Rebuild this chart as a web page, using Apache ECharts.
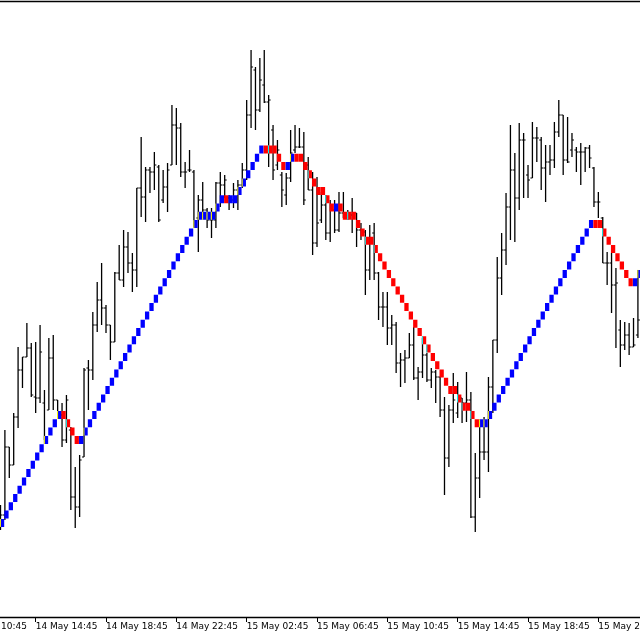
<!DOCTYPE html>
<html><head><meta charset="utf-8">
<script src="https://cdn.jsdelivr.net/npm/echarts@6/dist/echarts.min.js"></script>
<style>html,body{margin:0;padding:0;background:#fff}#c{width:640px;height:640px}</style>
</head><body><div id="c"></div>
<script>
// time labels at every 16th bar, starting at bar -8
const timeLabels = ["14 May 10:45","14 May 14:45","14 May 18:45","14 May 22:45","15 May 02:45","15 May 06:45","15 May 10:45","15 May 14:45","15 May 18:45","15 May 22:45","16 May 02:45"];

// OHLC bars (price in points)
const highs = [95,170,153,187,253,243,277,257,258,275,
 210,262,265,200,197,205,173,133,145,232,
 240,288,318,337,295,275,328,355,370,368,
 347,412,463,433,433,448,435,430,437,495,
 492,477,438,450,430,405,418,392,392,418,
 428,425,405,417,420,437,500,550,533,542,
 550,505,475,460,428,427,470,475,472,468,
 443,428,423,408,405,400,400,408,408,390,
 402,387,377,370,375,377,328,308,308,285,
 278,247,250,267,273,233,262,247,232,230,
 223,203,195,227,218,202,228,208,147,177,
 183,223,260,343,367,407,475,447,477,467,
 435,478,473,463,455,455,478,500,485,483,
 467,453,457,453,455,433,408,383,348,347,
 332,280,278,277,282,330];
const lows = [70,80,122,135,172,212,243,203,187,197,
 160,190,190,185,153,157,90,72,83,143,
 190,220,268,275,267,240,258,320,313,327,
 308,313,383,378,407,410,378,397,388,435,
 435,423,412,428,373,348,382,372,362,372,
 393,402,390,392,390,412,420,472,470,488,
 497,433,420,430,393,395,418,447,452,395,
 410,345,353,377,360,358,367,368,382,380,
 367,353,360,305,320,320,280,273,255,255,
 227,213,217,242,220,200,222,218,212,197,
 183,105,133,177,182,177,178,82,68,102,
 140,128,187,247,305,335,360,358,390,402,
 402,422,438,410,398,425,432,463,425,437,
 443,428,415,428,432,393,382,337,315,287,
 252,233,250,245,253,262];
const opens = [72,85,153,135,183,230,243,252,203,202,
 197,190,242,200,185,160,170,103,93,143,
 232,230,275,300,292,275,258,327,320,353,
 337,330,412,403,430,428,433,400,413,435,
 475,472,428,430,428,382,400,390,380,380,
 417,415,402,400,410,415,430,485,530,490,
 515,498,470,435,425,405,422,450,453,453,
 435,410,357,380,395,367,390,370,387,387,
 385,387,370,368,330,367,327,293,293,272,
 275,237,240,242,255,222,228,245,220,228,
 223,190,142,190,187,202,197,200,83,122,
 148,148,213,260,322,350,393,430,402,460,
 425,422,462,460,432,438,440,468,485,440,
 450,450,448,448,452,432,398,382,337,337,
 315,270,255,265,253,265];
const closes = [85,153,135,183,230,243,252,205,202,248,
 163,242,200,185,160,200,103,93,140,230,
 230,275,300,292,275,258,327,320,353,337,
 330,412,403,430,428,435,380,413,430,475,
 472,428,428,430,373,400,390,380,380,417,
 415,420,400,410,415,430,485,533,490,520,
 498,500,430,450,410,422,447,453,453,400,
 410,357,377,395,367,390,370,387,387,385,
 387,370,368,330,358,327,293,293,272,275,
 237,240,242,255,222,228,245,220,228,223,
 190,142,190,200,202,197,200,83,122,148,
 148,213,260,322,350,393,430,402,460,460,
 420,462,462,432,438,440,468,485,440,438,
 460,448,448,452,442,398,398,337,337,315,
 317,255,265,253,255,280];

// renko-style bricks: level (in bricks) and direction (1 = up/blue, -1 = down/red)
const brickBase = 172.4;
const brickSize = 8.3;
const brickLevel = [-12,-11,-10,-9,-8,-7,-6,-5,-4,-3,
 -2,-1,0,1,1,0,-1,-2,-2,-1,
 0,1,2,3,4,5,6,7,8,9,
 10,11,12,13,14,15,16,17,18,19,
 20,21,22,23,24,25,25,25,25,26,
 27,27,27,27,28,29,30,31,32,33,
 33,33,33,32,31,31,32,32,32,31,
 30,29,28,28,27,26,26,26,25,25,
 25,24,23,22,22,21,20,19,18,17,
 16,15,14,13,12,11,10,9,8,7,
 6,5,4,4,3,2,2,1,0,0,
 0,1,2,3,4,5,6,7,8,9,
 10,11,12,13,14,15,16,17,18,19,
 20,21,22,23,24,24,24,23,22,21,
 20,19,18,17,17,18];
const brickDir = [1,1,1,1,1,1,1,1,1,1,
 1,1,1,1,-1,-1,-1,-1,1,1,
 1,1,1,1,1,1,1,1,1,1,
 1,1,1,1,1,1,1,1,1,1,
 1,1,1,1,1,1,1,1,1,1,
 1,-1,1,1,1,1,1,1,1,1,
 -1,-1,-1,-1,-1,1,1,-1,-1,-1,
 -1,-1,-1,-1,-1,-1,1,-1,-1,-1,
 -1,-1,-1,-1,-1,-1,-1,-1,-1,-1,
 -1,-1,-1,-1,-1,-1,-1,-1,-1,-1,
 -1,-1,-1,-1,-1,-1,-1,-1,-1,1,
 1,1,1,1,1,1,1,1,1,1,
 1,1,1,1,1,1,1,1,1,1,
 1,1,1,1,1,-1,-1,-1,-1,-1,
 -1,-1,-1,-1,1,1];
const yellowMarks = [0,10,13,19,44,45,46,47,48,49,54,55,66,109,110,111,145];
const cyanMarks = [15,61,70,74,79,83,85,96,97,104,105,107,137];

const barData = highs.map((h, i) => [i, opens[i], h, lows[i], closes[i]]);
const brickData = brickLevel.map((n, i) => [i, brickBase + n * brickSize, brickBase + (n + 1) * brickSize, brickDir[i]]);
const markData = yellowMarks.map(i => [i, brickBase + brickLevel[i] * brickSize, brickBase + (brickLevel[i] + 1) * brickSize, 1])
  .concat(cyanMarks.map(i => [i, brickBase + brickLevel[i] * brickSize, brickBase + (brickLevel[i] + 1) * brickSize, 2]));

const chart = echarts.init(document.getElementById('c'), null, {renderer: 'canvas'});
chart.setOption({
  animation: false,
  backgroundColor: '#ffffff',
  grid: {left: -34.668, right: -28.69, top: 1.5, bottom: 23, show: false, containLabel: false, outerBoundsMode: 'none'},
  xAxis: [{
    type: 'value', min: -8, max: 152, interval: 16, position: 'bottom',
    axisLine: {show: true, onZero: false, lineStyle: {color: '#000', width: 1.3}},
    axisTick: {show: true, length: 5, lineStyle: {color: '#000', width: 1}},
    splitLine: {show: false},
    axisLabel: {
      show: true, align: 'left', margin: 5, color: '#000',
      fontFamily: 'DejaVu Sans', fontSize: 9,
      showMinLabel: true, showMaxLabel: true, hideOverlap: false,
      formatter: v => timeLabels[Math.round((v + 8) / 16)] || ''
    }
  }, {
    type: 'value', min: -8, max: 152, position: 'top',
    axisLine: {show: true, onZero: false, lineStyle: {color: '#000', width: 1.3}},
    axisTick: {show: false}, axisLabel: {show: false}, splitLine: {show: false}
  }],
  yAxis: {type: 'value', min: -17, max: 598.5, show: false, splitLine: {show: false}},
  series: [
    {
      type: 'custom', name: 'bars', data: barData, encode: {x: 0, y: [2, 3]}, clip: true,
      renderItem: function (params, api) {
        const k = api.value(0);
        const pO = api.coord([k, api.value(1)]);
        const pH = api.coord([k, api.value(2)]);
        const pL = api.coord([k, api.value(3)]);
        const pC = api.coord([k, api.value(4)]);
        const x = pH[0];
        const st = {stroke: '#000', lineWidth: 1.3};
        return {type: 'group', children: [
          {type: 'line', shape: {x1: x, y1: pH[1], x2: x, y2: pL[1]}, style: st},
          {type: 'line', shape: {x1: x - 2, y1: pO[1], x2: x, y2: pO[1]}, style: {stroke: '#000', lineWidth: 1}},
          {type: 'line', shape: {x1: x, y1: pC[1], x2: x + 2, y2: pC[1]}, style: {stroke: '#000', lineWidth: 1}}
        ]};
      }
    },
    {
      type: 'custom', name: 'bricks', data: brickData, encode: {x: 0, y: [1, 2]}, clip: true,
      renderItem: function (params, api) {
        const k = api.value(0);
        const b = api.coord([k, api.value(1)]);
        const t = api.coord([k, api.value(2)]);
        const w = api.size([1, 0])[0];
        return {type: 'rect', shape: {x: b[0] - 0.6, y: t[1], width: w - 0.1, height: b[1] - t[1] - 0.3},
          style: {fill: api.value(3) > 0 ? '#0000FF' : '#FF0000'}};
      }
    },
    {
      type: 'custom', name: 'marks', data: markData, encode: {x: 0, y: [1, 2]}, clip: true,
      renderItem: function (params, api) {
        const k = api.value(0);
        const b = api.coord([k, api.value(1)]);
        const t = api.coord([k, api.value(2)]);
        return {type: 'line', shape: {x1: b[0] - 0.1, y1: t[1], x2: b[0] - 0.1, y2: b[1] - 0.3},
          style: {stroke: api.value(3) === 1 ? '#FFFF00' : '#00FFFF', lineWidth: 1}};
      }
    }
  ]
});
</script>
</body></html>
